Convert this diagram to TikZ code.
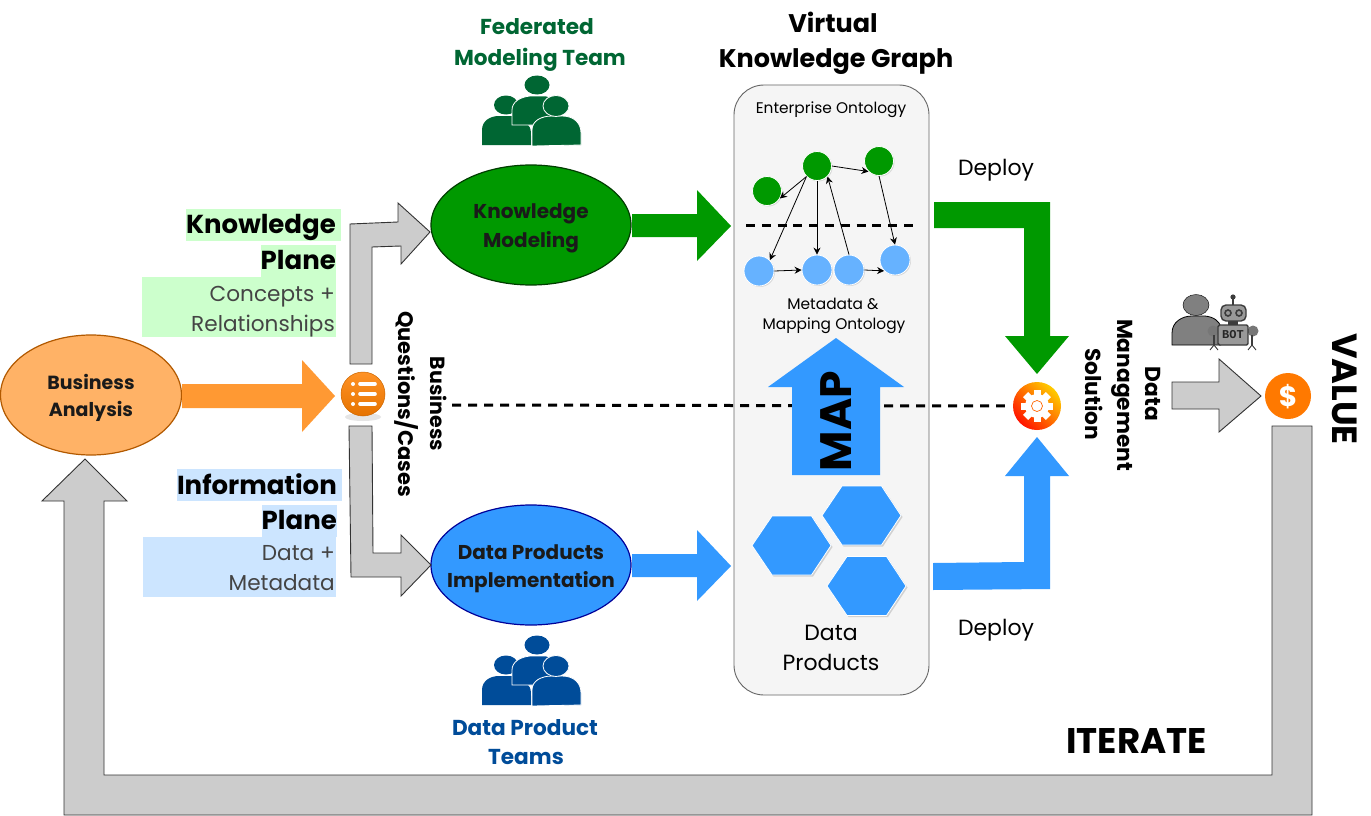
\documentclass[tikz,border=0pt]{standalone}
\usepackage{fontspec}
\setmainfont{Poppins}
\newfontfamily\botfont{Liberation Mono}
\usetikzlibrary{arrows.meta,shapes.geometric,shadows}
\definecolor{grayarrow}{HTML}{CCCCCC}
\definecolor{gline}{HTML}{333333}
\definecolor{ogreen}{HTML}{009900}
\definecolor{oblue}{HTML}{3399FF}
\definecolor{oorange}{HTML}{FF9933}
\definecolor{lgreen}{HTML}{CCFFCC}
\definecolor{lblue}{HTML}{CCE5FF}
\definecolor{teamgreen}{HTML}{006633}
\definecolor{teamblue}{HTML}{004C99}
\definecolor{darktxt}{HTML}{1A1A1A}
\definecolor{softtxt}{HTML}{444444}
\definecolor{botdark}{HTML}{3C3C3C}
\definecolor{botgray}{HTML}{999999}
\newcommand{\fs}[1]{\fontsize{#1}{#1}\selectfont}
\newcommand{\peopleicon}[2]{%
 \begin{scope}[yshift=#1pt]
  \fill[#2] (482,145) -- (482,130) .. controls (482,121) and (490,116) .. (499,116) -- (512,116) -- (512,125) -- (528,125) .. controls (531,128) and (531,132) .. (531,136) -- (531,145) -- cycle;
  \fill[#2] (506,105) ellipse [x radius=12,y radius=9.5];
  \fill[#2] (537,85) ellipse [x radius=12.5,y radius=9.5];
  \fill[#2,draw=white,line width=.8] (512,125) -- (512,110) .. controls (512,102) and (520,97) .. (530,96) -- (546,96) .. controls (558,97) and (560,110) .. (556,125) -- cycle;
  \fill[#2,draw=white,line width=.8] (532,146) -- (532,130) .. controls (532,121) and (541,116) .. (552,116) -- (562,116) .. controls (574,116) and (581,123) .. (581,133) -- (581,145) -- cycle;
  \fill[#2,draw=white,line width=.8] (556,106) ellipse [x radius=13,y radius=10.5];
 \end{scope}}
\newcommand{\hexshape}[2]{%
 \draw[hexstyle] (#1-39.5,#2) -- (#1-19.5,#2-29.5) -- (#1+20,#2-29.5) -- (#1+39.5,#2) -- (#1+20,#2+29.5) -- (#1-19.5,#2+29.5) -- cycle;}
\tikzset{
 x=1pt,y=-1pt,
 blockgray/.style={fill=grayarrow,draw=gline,line width=.9,line join=miter},
 bubble/.style={ellipse,minimum width=200,minimum height=120,inner sep=0,line width=1.2},
 bubbletext/.style={inner sep=0,font=\fs{20}\bfseries,text=darktxt},
 gball/.style={circle,minimum size=29,inner sep=0,fill=ogreen,draw=white,line width=.8,drop shadow={shadow xshift=1pt,shadow yshift=-1pt,opacity=.25}},
 bball/.style={circle,minimum size=30,inner sep=0,fill=oblue!75!white,draw=white,line width=.8,drop shadow={shadow xshift=1pt,shadow yshift=-1pt,opacity=.25}},
 hexstyle/.style={fill=oblue,draw=white,line width=.8,drop shadow={shadow xshift=1.5pt,shadow yshift=-1.5pt,opacity=.3}},
 link/.style={-{Stealth[length=7pt,width=7pt]},line width=.8,black},
 label/.style={inner sep=0,align=center},
 medtext/.style={label,font=\fs{22}},
 smalltext/.style={label,font=\fs{15.4}},
 headtext/.style={label,font=\fs{21.6}\bfseries},
 plane/.style={inner sep=0,font=\fs{26}\bfseries,anchor=east},
 planesoft/.style={inner sep=0,font=\fs{21.6},text=softtxt,anchor=east},
 sidetext/.style={label,rotate=-90,font=\fs{21}\bfseries},
 dashline/.style={black,line width=3,dash pattern=on 9pt off 7pt},
}
\begin{document}
\begin{tikzpicture}
\useasboundingbox (0,0) rectangle (1371,816);
\fill[white] (0,0) rectangle (1371,816);

% plane highlights
\fill[lgreen] (186,209) rectangle (341,241);
\fill[lgreen] (261,245) rectangle (336,277);
\fill[lgreen] (142,277) rectangle (336,337);
\fill[lblue] (177,469) rectangle (342,501);
\fill[lblue] (262,505) rectangle (337,537);
\fill[lblue] (143,537) rectangle (336,597);
\node[plane] (kp1) at (336,227) {Knowledge};
\node[plane] (kp2) at (336,260) {Plane};
\node[planesoft] (kp3) at (335,297) {Concepts +};
\node[planesoft] (kp4) at (335,326) {Relationships};
\node[plane] (ip1) at (337,484) {Information};
\node[plane] (ip2) at (337,520) {Plane};
\node[planesoft] (ip3) at (335,553) {Data +};
\node[planesoft] (ip4) at (335,583) {Metadata};

% return arrow
\draw[blockgray] (1272,426) -- (1312,426) -- (1312,815) -- (64,815) -- (64,501) -- (42,501) -- (85,459) -- (127,501) -- (104,501) -- (104,775) -- (1272,775) -- cycle;

% main panel
\node[draw=black!60,fill=black!4,rounded corners=30,minimum width=195,minimum height=610,inner sep=0,line width=.9] (panel) at (831.5,390) {};

% dashed line through the middle
\coordinate (dashstart) at (452,405);
\node[circle,minimum size=48,inner sep=0,left color=red!85!orange,right color=orange!40!yellow,shading angle=135] (gear) at (1037,406) {};
\draw[dashline,shorten >=8pt] (dashstart) -- (gear.west);

% bubbles
\node[bubble,fill=oorange!75!white,draw=orange!70!black,minimum width=181] (ba) at (91,395) {};
\node[bubble,fill=ogreen,draw=black!60!ogreen] (km) at (531,225) {};
\node[bubble,fill=oblue,draw=blue!60!black] (dp) at (531,565) {};
\node[bubbletext,font=\fs{19}\bfseries] (bat1) at (91,382) {Business};
\node[bubbletext,font=\fs{19}\bfseries] (bat2) at (91,411) {Analysis};
\node[bubbletext] (kmt1) at (531,214) {Knowledge};
\node[bubbletext] (kmt2) at (531,242) {Modeling};
\node[bubbletext] (dpt1) at (531,552) {Data Products};
\node[bubbletext] (dpt2) at (531,582) {Implementation};

% orange arrow
\fill[oorange] (182,384) -- (302,384) -- (302,360) -- (335,396) -- (302,432) -- (302,408) -- (182,408) -- cycle;

% gray elbow arrows
\draw[blockgray] (350,364) -- (350,224) -- (398,222) -- (398,203) -- (430,232) -- (401,264) -- (401,246) -- (372,247) -- (372,364) -- cycle;
\draw[blockgray] (349,426) -- (372,426) -- (373,553) -- (401,553) -- (401,535) -- (431,565) -- (401,596) -- (401,577) -- (351,577) -- cycle;

% questions icon
\fill[black!10] (363,417) ellipse [x radius=18,y radius=4];
\node[circle,minimum size=44,inner sep=0,top color=orange!85!white,bottom color=orange!90!black,draw=orange!80!black,line width=.5] (ql) at (363,394) {};
\foreach \yy in {384,394,404}{
 \fill[white] (353,\yy) circle [radius=2];
 \draw[white,line width=3.6,line cap=round] (360,\yy) -- (375,\yy);
}

% green and blue arrows to panel
\fill[ogreen] (632,214) -- (697,214) -- (697,190) -- (731,226) -- (697,261) -- (697,237) -- (632,237) -- cycle;
\fill[oblue] (632,554) -- (697,554) -- (697,530) -- (731,566) -- (697,601) -- (697,577) -- (632,577) -- cycle;

% ontology graph
\node[smalltext] (eo) at (831,109.5) {Enterprise Ontology};
\draw[dashline,dash pattern=on 9pt off 6.8pt] (746,225) -- (918,225);
\node[gball] (g1) at (767,191) {};
\node[gball] (g2) at (817,166) {};
\node[gball] (g3) at (879,161) {};
\node[bball] (b1) at (759,271) {};
\node[bball] (b2) at (817,270) {};
\node[bball] (b3) at (849,270) {};
\node[bball] (b4) at (895,260) {};
\draw[link] (g2.south west) -- (g1.-30);
\draw[link] (g2.south west) -- (b1.north east);
\draw[link] (g2.south) -- (b2.north);
\draw[link] (b3.north) -- (g2.south east);
\draw[link] (g2.east) -- (g3.south west);
\draw[link] (g3.south) -- (b4.north);
\draw[link] (b1.east) -- (b2.west);
\draw[link] (b3.east) -- (b4.south west);
\node[smalltext] (mm1) at (833,304) {Metadata \&};
\node[smalltext] (mm2) at (834,326) {Mapping Ontology};

% MAP arrow
\fill[oblue] (792,475) -- (792,387) -- (768,387) -- (836,338) -- (904,387) -- (880,387) -- (880,475) -- cycle;
\node[label,rotate=90,font=\fs{44}\bfseries] (map) at (836,421) {MAP};

% hexagons
\hexshape{791.5}{545.5}
\hexshape{861.5}{515.5}
\hexshape{866.5}{586}
\node[medtext] (dp1) at (831,632.5) {Data};
\node[medtext] (dp2) at (831,662) {Products};

% deploy arrows
\fill[ogreen] (934,202) -- (1050,202) -- (1050,336) -- (1069,336) -- (1037,374) -- (1005,336) -- (1024,336) -- (1024,228) -- (934,228) -- cycle;
\fill[oblue] (933,563) -- (1024,562) -- (1024,476) -- (1005,476) -- (1037,437) -- (1069,476) -- (1050,476) -- (1050,589) -- (933,590) -- cycle;
\node[medtext] (dep1) at (996,170) {Deploy};
\node[medtext] (dep2) at (996,630) {Deploy};

% gear
\foreach \aa in {0,45,...,315}{
 \fill[white,rotate around={\aa:(gear.center)}] (1033.5,390) rectangle (1040.5,422);
}
\fill[white] (gear.center) circle [radius=12];
\draw[orange!80!red,line width=.7] (gear.center) circle [radius=5.5];

% value
\draw[blockgray] (1172,382) -- (1219,382) -- (1219,359) -- (1261,396) -- (1219,432) -- (1219,409) -- (1172,409) -- cycle;
\node[circle,minimum size=46,inner sep=0,fill=orange!95!red] (val) at (1288,396) {};
\node[label,text=white,font=\fs{28}\bfseries] (valt) at (1288,397) {\$};

% person and bot
\fill[black!50] (1196,305) ellipse [x radius=13,y radius=10.5];
\draw[black,line width=.4] (1196,305) ellipse [x radius=13,y radius=10.5];
\fill[black!50] (1172,345) -- (1172,333) .. controls (1172,322) and (1182,316) .. (1192,316) -- (1205,316) .. controls (1214,317) and (1219,321) .. (1221,327) -- (1221,345) -- cycle;
\draw[black,line width=.8] (1221,345) -- (1172,345) -- (1172,333) .. controls (1172,322) and (1182,316) .. (1192,316) -- (1205,316) .. controls (1214,317) and (1219,321) .. (1221,327);
\draw[botdark,line width=1.4] (1233,297) -- (1233,305);
\fill[botdark] (1233,297) circle [radius=2.6];
\fill[botdark] (1228,320) rectangle (1238,325);
\draw[fill=botgray,draw=botdark,line width=1.4,rounded corners=5] (1221,305) rectangle (1246,321);
\draw[botdark,line width=1.6,fill=black!40] (1228,313) circle [radius=3];
\draw[botdark,line width=1.6,fill=black!40] (1239,313) circle [radius=3];
\fill[botdark!70] (1213,331) circle [radius=5.5];
\fill[botdark!70] (1253,331) circle [radius=5.5];
\draw[botdark,line width=1.6] (1214,335) -- (1214,345);
\draw[botdark,line width=1.6] (1252,335) -- (1252,345);
\draw[botdark,line width=.9] (1210,350) -- (1214,345) -- (1218,350);
\draw[botdark,line width=.9] (1248,350) -- (1252,345) -- (1256,350);
\node[draw=botdark,fill=botgray,line width=1.4,rounded corners=1.5,minimum width=30,minimum height=20,inner sep=0,font=\fs{12}\botfont\bfseries,text=black!85] (bot) at (1233,335) {BOT};

% team icons
\peopleicon{0}{teamgreen}
\peopleicon{-560}{teamblue}

% rotated and heading labels
\node[sidetext,font=\fs{20.5}\bfseries] (bq1) at (439,404) {Business};
\node[sidetext] (bq2) at (407,404) {Questions/Cases};
\node[sidetext,font=\fs{21.7}\bfseries] (ms1) at (1153,394) {Data};
\node[sidetext,font=\fs{21.7}\bfseries] (ms2) at (1122,395) {Management};
\node[sidetext,font=\fs{21.7}\bfseries] (ms3) at (1094,394) {Solution};
\node[label,rotate=-90,font=\fs{35}\bfseries] (value) at (1345,389) {VALUE};
\node[label,font=\fs{35.6}\bfseries] (iter) at (1136.5,741) {ITERATE};
\node[headtext,text=teamgreen] (ft1) at (537,26.5) {Federated};
\node[headtext,text=teamgreen] (ft2) at (540,59.5) {Modeling Team};
\node[headtext,text=teamblue] (dt1) at (525,727.5) {Data Product};
\node[headtext,text=teamblue] (dt2) at (526,756.5) {Teams};
\node[label,font=\fs{25.5}\bfseries] (vk1) at (833,22) {Virtual};
\node[label,font=\fs{25.5}\bfseries] (vk2) at (836,62) {Knowledge Graph};
\end{tikzpicture}
\end{document}
